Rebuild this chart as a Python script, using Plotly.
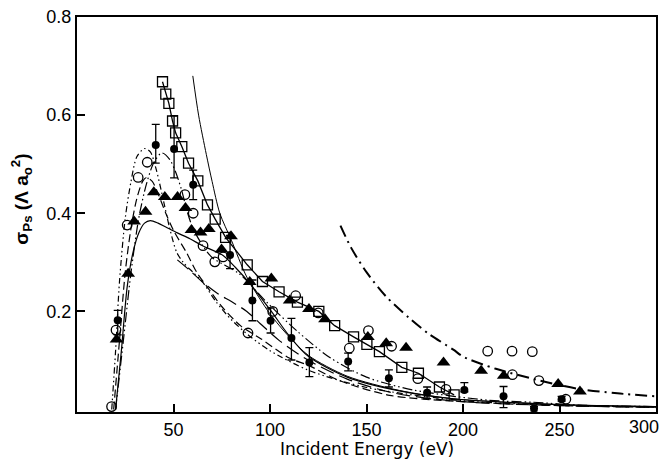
import plotly.graph_objects as go

# ---------------- data ----------------
sq_x = [44.3, 46.0, 47.6, 49.5, 51.1, 54.3, 57.8, 62.6, 67.6, 71.6, 77.0, 88.2, 96.1, 104.7, 114.2, 125.3, 133.5, 143.3, 150.2, 156.7, 168.3, 176.9, 187.8, 195.4]
sq_y = [0.668, 0.643, 0.624, 0.588, 0.564, 0.536, 0.502, 0.466, 0.417, 0.388, 0.351, 0.295, 0.261, 0.240, 0.219, 0.200, 0.171, 0.148, 0.133, 0.118, 0.086, 0.074, 0.046, 0.030]

fc_x = [21.1, 40.8, 50.3, 60.2, 79.3, 90.9, 100.3, 111.1, 120.4, 140.5, 161.6, 181.4, 200.7, 221.0, 236.8, 251.1]
fc_y = [0.182, 0.539, 0.531, 0.458, 0.315, 0.222, 0.181, 0.146, 0.096, 0.098, 0.064, 0.034, 0.040, 0.027, 0.002, 0.021]
fc_ep = [0.020, 0.042, 0.068, 0.030, 0.040, 0.042, 0.026, 0.040, 0.030, 0.017, 0.017, 0.012, 0.015, 0.020, 0.004, 0.006]
fc_em = [0.030, 0.037, 0.059, 0.030, 0.028, 0.041, 0.025, 0.045, 0.029, 0.019, 0.018, 0.012, 0.004, 0.023, 0.008, 0.004]

oc_x = [17.9, 20.2, 26.0, 31.7, 36.4, 55.9, 60.2, 65.3, 71.4, 75.7, 88.6, 101.4, 113.3, 125.0, 141.1, 151.0, 163.0, 176.6, 191.2, 212.8, 225.4, 235.9, 225.6, 239.3, 253.3]
oc_y = [0.006, 0.162, 0.376, 0.473, 0.504, 0.438, 0.400, 0.334, 0.301, 0.311, 0.156, 0.200, 0.232, 0.197, 0.125, 0.161, 0.129, 0.063, 0.041, 0.119, 0.119, 0.118, 0.071, 0.059, 0.021]

tr_x = [20.5, 26.5, 29.6, 35.5, 39.8, 45.5, 52.1, 56.2, 59.3, 64.0, 68.3, 74.9, 79.8, 89.5, 100.7, 110.2, 120.2, 128.5, 150.7, 160.2, 170.5, 189.9, 209.4, 221.1, 249.3, 260.6]
tr_y = [0.143, 0.277, 0.383, 0.403, 0.443, 0.433, 0.433, 0.411, 0.366, 0.361, 0.368, 0.326, 0.353, 0.260, 0.267, 0.222, 0.205, 0.184, 0.148, 0.135, 0.126, 0.096, 0.079, 0.069, 0.052, 0.037]

# theory curves
ddot_x = [18, 20, 22, 25, 28, 31, 35, 38, 41, 44, 48, 51.6, 55, 60, 65, 72, 80, 90, 100, 120, 150, 200, 250, 300]
ddot_y = [0.0, 0.12, 0.26, 0.39, 0.465, 0.515, 0.532, 0.525, 0.49, 0.44, 0.37, 0.321, 0.30, 0.28, 0.26, 0.22, 0.183, 0.148, 0.12, 0.08, 0.045, 0.018, 0.009, 0.005]

arc_x = [20, 24, 28, 32, 36, 40, 44, 48, 51, 54, 57, 60, 65, 70, 84, 98, 114, 131, 150, 174, 213, 236, 260, 300]
arc_y = [0.0, 0.14, 0.28, 0.39, 0.46, 0.505, 0.523, 0.51, 0.485, 0.45, 0.405, 0.37, 0.335, 0.31, 0.277, 0.22, 0.16, 0.106, 0.066, 0.040, 0.019, 0.015, 0.009, 0.006]

dash_x = [19, 22, 25, 28, 31, 34, 36, 39, 42, 46, 50, 56.7, 62, 68, 75, 85, 95, 110, 120, 136, 162, 200, 250, 300]
dash_y = [0.0, 0.14, 0.28, 0.37, 0.43, 0.465, 0.473, 0.465, 0.44, 0.40, 0.365, 0.32, 0.28, 0.247, 0.21, 0.17, 0.145, 0.105, 0.09, 0.059, 0.029, 0.016, 0.008, 0.005]

sol_x = [20, 23, 26, 29, 32, 35, 38, 42, 46, 52, 58.5, 65, 75.7, 82, 89.5, 100.7, 110, 120, 140, 167, 195, 250, 300]
sol_y = [0.0, 0.12, 0.25, 0.32, 0.36, 0.38, 0.385, 0.38, 0.372, 0.36, 0.348, 0.334, 0.314, 0.29, 0.257, 0.2, 0.15, 0.108, 0.066, 0.038, 0.022, 0.010, 0.006]

ld_x = [52, 58, 65, 73, 80, 88, 95, 105, 120, 140, 165, 200, 250, 300]
ld_y = [0.305, 0.285, 0.26, 0.236, 0.22, 0.20, 0.175, 0.14, 0.10, 0.062, 0.033, 0.016, 0.008, 0.004]

thin_x = [60, 63, 67, 70, 74, 80, 88, 100, 110, 120, 140, 167, 195, 250, 300]
thin_y = [0.68, 0.60, 0.52, 0.465, 0.40, 0.345, 0.27, 0.195, 0.148, 0.11, 0.068, 0.039, 0.022, 0.010, 0.006]

dd_x = [136.5, 142, 150, 160, 172, 182, 195, 200, 217, 240, 260, 280, 300]
dd_y = [0.375, 0.33, 0.28, 0.231, 0.187, 0.155, 0.122, 0.108, 0.083, 0.059, 0.042, 0.033, 0.027]

x_ticks = [50, 100, 150, 200, 250]
x_last = 300
y_ticks = [0.2, 0.4, 0.6, 0.8]

# ---------------- figure ----------------
fig = go.Figure()
K = "black"

def curve(x, y, dash, width=1.2):
    fig.add_trace(go.Scatter(x=x, y=y, mode="lines", line=dict(color=K, width=width, dash=dash, shape="spline", smoothing=0.8), hoverinfo="skip"))

curve(ddot_x, ddot_y, "6px,3px,1.5px,3px,1.5px,3px")
curve(arc_x, arc_y, "10px,3px,1.5px,3px,1.5px,3px")
curve(dash_x, dash_y, "8px,4px")
curve(ld_x, ld_y, "14px,6px")
curve(sol_x, sol_y, "solid")
curve(thin_x, thin_y, "solid", 1.0)
curve(dd_x, dd_y, "12px,5px,2px,5px", 2.0)

fig.add_trace(go.Scatter(x=sq_x, y=sq_y, mode="lines+markers",
                         line=dict(color=K, width=1.3),
                         marker=dict(symbol="square-open", size=10, color=K, line=dict(width=1.3, color=K))))
fig.add_trace(go.Scatter(x=oc_x, y=oc_y, mode="markers",
                         marker=dict(symbol="circle-open", size=9.5, color=K, line=dict(width=1.3, color=K))))
fig.add_trace(go.Scatter(x=tr_x, y=tr_y, mode="markers",
                         marker=dict(symbol="triangle-up", size=12, color=K)))
fig.add_trace(go.Scatter(x=fc_x, y=fc_y, mode="markers",
                         error_y=dict(type="data", symmetric=False, array=fc_ep, arrayminus=fc_em, color=K, thickness=1.3, width=4),
                         marker=dict(symbol="circle", size=8, color=K)))

tickfont = dict(family="Liberation Sans, Arial", size=18, color=K)
axis_common = dict(showline=True, linecolor=K, linewidth=2, mirror=True, ticks="inside", ticklen=8,
                   tickwidth=1.5, tickcolor=K, showgrid=False, zeroline=False, tickfont=tickfont)

fig.update_layout(
    width=665, height=462,
    margin=dict(l=77, r=7, t=12, b=50),
    paper_bgcolor="white", plot_bgcolor="white",
    showlegend=False,
    xaxis=dict(range=[0, 300], tickvals=x_ticks + [x_last], ticktext=[str(v) for v in x_ticks] + [""],
               **axis_common),
    yaxis=dict(range=[-0.005, 0.8], tickvals=y_ticks, ticktext=[f"{v:.1f}" for v in y_ticks],
               **axis_common),
)

# last x tick label kept inside the page, as in the reference
fig.add_annotation(x=x_last, y=0, xref="x", yref="paper", text=str(x_last), showarrow=False,
                   xanchor="right", yanchor="top", xshift=5, yshift=-3, font=tickfont)
# axis titles
fig.add_annotation(x=0.5, y=-0.093, xref="paper", yref="paper", text="Incident Energy (eV)", showarrow=False,
                   xanchor="center", yanchor="middle", font=dict(family="DejaVu Sans", size=17, color=K))
fig.add_annotation(x=-0.095, y=0.54, xref="paper", yref="paper",
                   text="<b>σ<sub>Ps</sub> (Λ a<sub>o</sub><sup>2</sup>)</b>", showarrow=False, textangle=-90,
                   xanchor="center", yanchor="middle", font=dict(family="Liberation Sans", size=19, color=K))

fig.write_html("out.html", config={"displayModeBar": False},
               post_script="document.body.style.margin='0px';")
